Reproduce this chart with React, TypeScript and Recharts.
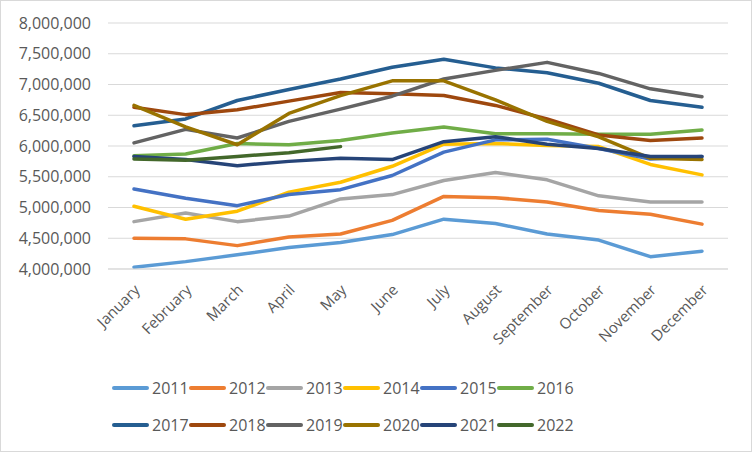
import { LineChart, Line, XAxis, YAxis, CartesianGrid, Legend } from "recharts";

const months = [
  "January", "February", "March", "April", "May", "June",
  "July", "August", "September", "October", "November", "December",
];

const yearLabels = ["2011", "2012", "2013", "2014", "2015", "2016", "2017", "2018", "2019", "2020", "2021", "2022"];

const yearColors = [
  "#5B9BD5", "#ED7D31", "#A5A5A5", "#FFC000", "#4472C4", "#70AD47",
  "#255E91", "#9E480E", "#636363", "#997300", "#264478", "#43682B",
];

const v2011 = [4030000, 4120000, 4230000, 4350000, 4430000, 4560000, 4810000, 4740000, 4570000, 4470000, 4200000, 4290000];
const v2012 = [4500000, 4490000, 4380000, 4520000, 4570000, 4790000, 5180000, 5160000, 5090000, 4950000, 4890000, 4730000];
const v2013 = [4770000, 4910000, 4770000, 4860000, 5140000, 5210000, 5440000, 5570000, 5450000, 5190000, 5090000, 5090000];
const v2014 = [5020000, 4810000, 4940000, 5250000, 5410000, 5670000, 6030000, 6040000, 6010000, 5990000, 5700000, 5530000];
const v2015 = [5300000, 5150000, 5030000, 5210000, 5290000, 5520000, 5900000, 6100000, 6110000, 5960000, 5790000, 5830000];
const v2016 = [5840000, 5870000, 6040000, 6020000, 6090000, 6210000, 6310000, 6200000, 6200000, 6190000, 6190000, 6260000];
const v2017 = [6330000, 6440000, 6740000, 6920000, 7090000, 7280000, 7410000, 7270000, 7190000, 7020000, 6740000, 6630000];
const v2018 = [6630000, 6510000, 6590000, 6730000, 6870000, 6850000, 6820000, 6660000, 6440000, 6180000, 6090000, 6130000];
const v2019 = [6050000, 6270000, 6130000, 6400000, 6600000, 6810000, 7090000, 7230000, 7360000, 7180000, 6930000, 6800000];
const v2020 = [6660000, 6310000, 6020000, 6530000, 6820000, 7060000, 7060000, 6750000, 6400000, 6150000, 5800000, 5780000];
const v2021 = [5830000, 5780000, 5680000, 5750000, 5800000, 5780000, 6070000, 6150000, 6030000, 5960000, 5830000, 5830000];
const v2022 = [5790000, 5770000, 5830000, 5890000, 5990000, null, null, null, null, null, null, null];

const yTicks = [4000000, 4500000, 5000000, 5500000, 6000000, 6500000, 7000000, 7500000, 8000000];

const series = [v2011, v2012, v2013, v2014, v2015, v2016, v2017, v2018, v2019, v2020, v2021, v2022];

const rows = months.map((m, i) => {
  const row: Record<string, string | number | null> = { month: m };
  yearLabels.forEach((y, s) => {
    row[y] = series[s][i];
  });
  return row;
});

const textColor = "#595959";
const font = "'Open Sans', 'Noto Sans', sans-serif";

function MonthTick(props: any) {
  const { x, y, payload } = props;
  return (
    <g transform={`translate(${x + 4},${y + 11})`}>
      <text
        transform="rotate(-45)"
        textAnchor="end"
        fill={textColor}
        fontSize={15}
        fontFamily={font}
        dy={4}
      >
        {payload.value}
      </text>
    </g>
  );
}

function YearLegend({ payload }: any) {
  const items = (payload || []) as Array<{ value: string; color: string }>;
  const rowsOf = [items.slice(0, 6), items.slice(6, 12)];
  return (
    <div style={{ height: 80, paddingTop: 7, paddingLeft: 111, boxSizing: "border-box" }}>
      {rowsOf.map((r, ri) => (
        <div key={ri} style={{ display: "flex", height: 37, alignItems: "center" }}>
          {r.map((it) => (
            <div key={it.value} style={{ width: 77, display: "flex", alignItems: "center" }}>
              <span
                style={{
                  display: "inline-block",
                  width: 37,
                  height: 4,
                  borderRadius: 2,
                  background: it.color,
                  marginRight: 3,
                }}
              />
              <span style={{ color: textColor, fontSize: 16, fontFamily: font }}>{it.value}</span>
            </div>
          ))}
        </div>
      ))}
    </div>
  );
}

export default function App() {
  return (
    <div
      style={{
        position: "absolute",
        left: 0,
        top: 0,
        width: 752,
        height: 452,
        border: "1px solid #D9D9D9",
        boxSizing: "border-box",
        background: "#fff",
      }}
    >
      <LineChart
        width={750}
        height={450}
        data={rows}
        margin={{ top: 22, right: 23, left: 7, bottom: 9 }}
      >
        <CartesianGrid vertical={false} stroke="#D9D9D9" strokeWidth={1} />
        <XAxis
          dataKey="month"
          interval={0}
          height={93}
          padding={{ left: 26, right: 26 }}
          axisLine={{ stroke: "#D9D9D9" }}
          tickLine={false}
          tick={<MonthTick />}
        />
        <YAxis
          width={100}
          domain={[4000000, 8000000]}
          ticks={yTicks}
          axisLine={false}
          tickLine={false}
          tickSize={0}
          tickMargin={17}
          tickFormatter={(v: number) => v.toLocaleString("en-US")}
          tick={{ fill: textColor, fontSize: 16, fontFamily: font }}
        />
        <Legend verticalAlign="bottom" content={<YearLegend />} wrapperStyle={{ left: 0, width: 750 }} />
        {yearLabels.map((y, i) => (
          <Line
            key={y}
            type="linear"
            dataKey={y}
            stroke={yearColors[i]}
            strokeWidth={3.5}
            strokeLinecap="round"
            strokeLinejoin="round"
            dot={false}
            activeDot={false}
            isAnimationActive={false}
          />
        ))}
      </LineChart>
    </div>
  );
}
